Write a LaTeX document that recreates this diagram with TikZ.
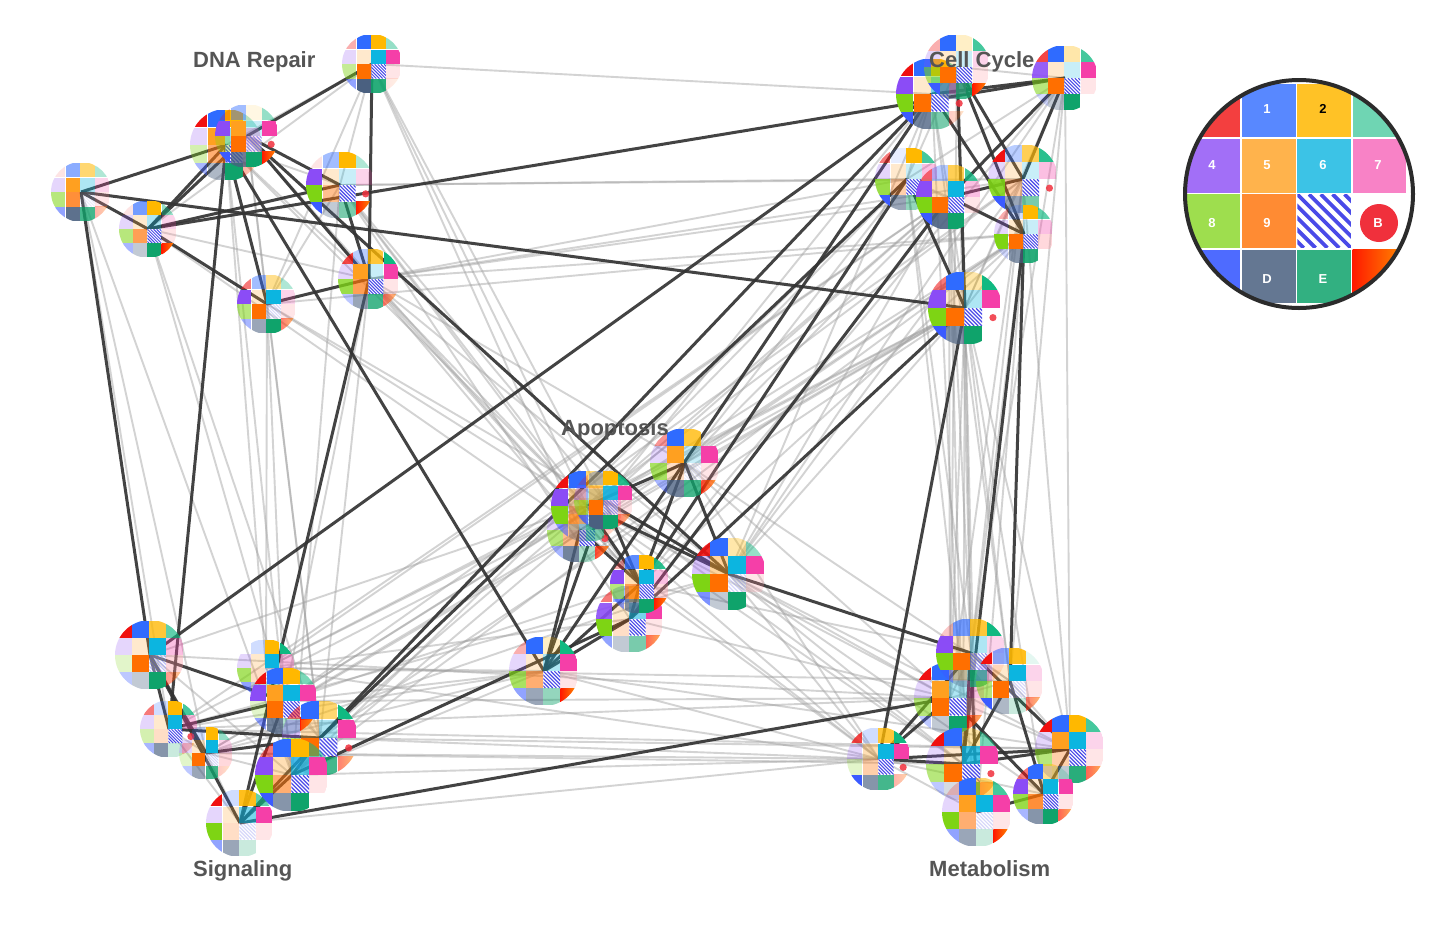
\documentclass[tikz,border=0pt]{standalone}
\usepackage{fontspec}
\setmainfont{Liberation Sans}
\pgfdeclarelayer{edges}
\pgfsetlayers{edges,main}
\definecolor{g0}{HTML}{F01010}
\definecolor{g1}{HTML}{2F6BFF}
\definecolor{g2}{HTML}{FFB800}
\definecolor{g3}{HTML}{10B981}
\definecolor{g4}{HTML}{8B4CF6}
\definecolor{g5}{HTML}{FFA020}
\definecolor{g6}{HTML}{0CB5E0}
\definecolor{g7}{HTML}{F53FA8}
\definecolor{g8}{HTML}{7ED414}
\definecolor{g9}{HTML}{FF6F00}
\definecolor{g10}{HTML}{4A4AE8}
\definecolor{g11}{HTML}{FF8C98}
\definecolor{g12}{HTML}{3B5BFF}
\definecolor{g13}{HTML}{4A6080}
\definecolor{g14}{HTML}{0FA36B}
\definecolor{gradA}{HTML}{FF1A00}
\definecolor{gradB}{HTML}{FF9000}
\definecolor{dotred}{HTML}{F0303C}
\definecolor{labelgray}{HTML}{555555}
\definecolor{ringdark}{HTML}{2B2B2B}
\tikzset{
  lightedge/.style={draw=black!38,opacity=.45,line width=1.9pt},
  darkedge/.style={draw=black!80,opacity=.92,line width=3pt},
  hub/.style={circle,inner sep=0pt,draw=none,fill=none},
  grouplabel/.style={anchor=base west,inner sep=0pt,text=labelgray,font=\fontsize{22}{24}\selectfont\bfseries},
  keylabel/.style={inner sep=0pt,text=white,font=\fontsize{13}{15}\selectfont\bfseries},
}
% one cell: index, opacity, x, y, size
\newcommand\hmcell[5]{%
  \ifnum#1=10\relax
    \begin{scope}
      \clip (#3,#4) rectangle ++(#5,#5);
      \fill[white,opacity=#2] (#3,#4) rectangle ++(#5,#5);
      \pgfmathsetlengthmacro\hw{0.07*#5*1pt}%
      \foreach \k in {-5,...,5}{%
        \draw[g10,opacity=#2,line width=\hw] ({#3+\k*0.22*#5},#4) -- ++(#5,#5);
      }
    \end{scope}
  \else\ifnum#1=15\relax
    \shade[left color=gradA,right color=gradB,opacity=#2] (#3,#4) rectangle ++(#5,#5);
  \else
    \fill[g#1,opacity=#2] (#3,#4) rectangle ++(#5,#5);
  \fi\fi
}
% name, x, y, r, sixteen strengths, dot flag
\newcommand\hmglyph[6]{%
  \begin{scope}
    \clip (#2,#3) circle (#4);
    \foreach \o [count=\i from 0] in {#5}{%
      \ifnum\o>0\relax
        \pgfmathsetmacro\cc{int(mod(\i,4))}%
        \pgfmathsetmacro\rr{int(\i/4)}%
        \pgfmathsetmacro\xa{#2+(-0.996+0.489*\cc)*#4}%
        \pgfmathsetmacro\ya{#3+(-0.97+0.489*\rr)*#4}%
        \pgfmathsetmacro\ss{0.478*#4}%
        \pgfmathsetmacro\op{\o/9}%
        \hmcell{\i}{\op}{\xa}{\ya}{\ss}%
      \fi
    }
    \ifnum#6=1\relax
      \fill[dotred,opacity=.85] ({#2+0.755*#4},{#3+0.26*#4}) circle (3.6);
    \fi
  \end{scope}
  \node[hub,minimum size={#4*2pt}] (#1) at (#2,#3) {};
}
\begin{document}
\begin{tikzpicture}[x=1pt,y=-1pt]
\useasboundingbox (0,0) rectangle (1456,935);
% DNA Repair
\hmglyph{a1}{372}{64}{30}{3,9,9,4,2,2,9,9,4,9,9,2,5,9,8,1}{0}
\hmglyph{a2}{81}{192}{30}{1,5,5,3,2,9,3,2,5,7,1,2,5,8,7,3}{0}
\hmglyph{a3}{148}{229}{29}{1,6,9,4,2,2,3,2,5,6,9,2,4,3,9,9}{0}
\hmglyph{a4}{226}{145}{36}{9,9,9,3,2,9,4,3,3,5,9,3,4,4,9,3}{0}
\hmglyph{a8}{247}{136}{32}{2,4,1,4,9,9,2,9,3,9,5,0,9,7,9,9}{1}
\hmglyph{a5}{340}{185}{34}{1,4,9,3,9,2,2,2,9,4,9,0,9,3,5,9}{1}
\hmglyph{a6}{369}{279}{31}{7,3,7,9,2,9,2,9,7,6,9,2,3,5,7,5}{0}
\hmglyph{a7}{267}{304}{30}{5,4,4,3,9,2,9,2,5,9,2,2,4,5,9,5}{0}
% Cell Cycle
\hmglyph{c2}{932}{94}{36}{9,9,9,5,9,2,5,5,9,9,9,0,9,7,5,2}{1}
\hmglyph{c1}{957}{67}{33}{3,9,2,7,2,2,2,2,5,9,9,2,9,5,7,9}{0}
\hmglyph{c3}{1065}{78}{33}{7,9,3,7,8,2,2,9,5,9,9,2,2,3,9,0}{0}
\hmglyph{c4}{907}{179}{32}{5,1,9,7,2,2,2,3,7,3,9,0,9,5,4,0}{0}
\hmglyph{c6}{1023}{179}{35}{9,3,6,8,2,2,2,3,8,3,9,0,9,5,5,0}{1}
\hmglyph{c7}{1024}{234}{30}{3,2,9,6,2,2,2,3,9,9,9,3,2,6,8,0}{0}
\hmglyph{c5}{949}{197}{33}{5,3,6,7,9,3,9,3,9,9,9,2,9,8,9,0}{0}
\hmglyph{c8}{965}{308}{37}{5,9,3,9,9,2,3,9,9,9,9,0,9,6,9,0}{1}
% Apoptosis
\hmglyph{p4}{580}{530}{33}{2,2,3,3,2,4,3,3,5,4,9,0,4,7,3,7}{1}
\hmglyph{p2}{587}{506}{36}{9,9,5,2,9,4,3,3,9,5,3,3,5,3,5,2}{0}
\hmglyph{p3}{604}{500}{30}{2,3,9,8,3,5,8,9,5,9,5,2,7,9,9,5}{0}
\hmglyph{p1}{685}{463}{35}{4,9,7,0,2,9,2,9,6,2,1,2,4,7,7,7}{0}
\hmglyph{p7}{729}{574}{37}{8,9,3,4,3,4,9,9,9,9,2,2,6,3,9,0}{0}
\hmglyph{p6}{630}{619}{34}{5,4,5,5,8,2,5,9,9,2,9,2,5,3,5,6}{0}
\hmglyph{p5}{640}{584}{30}{3,7,9,8,9,3,9,3,5,6,9,3,5,6,9,9}{0}
\hmglyph{p8}{544}{671}{35}{3,9,2,9,2,2,3,9,6,5,9,2,5,5,4,9}{0}
% Signaling
\hmglyph{s1}{150}{655}{35}{9,9,7,6,2,2,9,3,2,9,3,3,3,3,9,4}{0}
\hmglyph{s2}{266}{668}{29}{0,2,9,9,2,2,9,3,6,2,2,2,5,3,3,2}{0}
\hmglyph{s3}{284}{701}{34}{9,9,9,5,9,9,9,9,2,9,9,0,5,7,3,9}{1}
\hmglyph{s4}{169}{729}{29}{5,2,9,7,2,2,9,3,3,2,9,0,4,6,2,3}{1}
\hmglyph{s5}{206}{753}{27}{0,2,9,4,2,2,9,2,2,9,2,3,3,5,7,2}{0}
\hmglyph{s6}{320}{738}{38}{5,9,5,9,3,3,3,9,5,9,9,0,3,3,7,5}{1}
\hmglyph{s7}{292}{775}{37}{5,9,9,5,9,3,6,9,9,5,9,2,9,6,9,0}{0}
\hmglyph{s8}{240}{823}{34}{9,2,8,6,2,2,5,9,9,2,2,2,5,5,2,0}{0}
% Metabolism
\hmglyph{m3}{950}{698}{36}{9,9,3,3,2,9,3,3,5,9,9,3,3,3,9,6}{0}
\hmglyph{m1}{971}{653}{35}{2,6,7,9,9,2,3,2,9,9,5,2,5,3,7,2}{0}
\hmglyph{m2}{1010}{681}{34}{9,5,8,1,2,2,9,2,5,9,2,2,9,4,2,5}{0}
\hmglyph{m4}{879}{759}{32}{7,2,7,9,2,3,9,9,2,3,9,0,9,6,7,3}{1}
\hmglyph{m6}{1070}{749}{35}{9,9,9,7,2,9,9,2,5,3,9,2,3,3,8,6}{0}
\hmglyph{m7}{1044}{794}{31}{5,9,4,2,9,2,9,9,7,7,9,2,4,6,9,6}{0}
\hmglyph{m5}{963}{764}{37}{9,9,3,5,2,2,7,9,5,9,9,0,3,2,9,5}{1}
\hmglyph{m8}{977}{812}{35}{2,9,5,7,2,9,9,9,9,5,2,2,5,5,2,9}{0}
% Connectors, behind the glyphs
\begin{pgfonlayer}{edges}
\fill[white] (0,0) rectangle (1456,935);
\foreach \u/\v in {a1/a3,a1/a5,a1/a7,a1/a4,a3/a6,a4/a5,a5/a7,a8/a7,a4/a6,
 a2/s4,a2/s5,a2/s7,a3/s3,a3/s6,a4/s2,a4/s7,a8/s6,a5/s7,a7/s2,a7/s6,a7/s3,a6/s6,a6/s3,
 a1/p2,a1/p4,a1/p3,a4/p2,a8/p4,a5/p3,a5/p5,a5/p2,a5/p6,a6/p1,a6/p2,a6/p5,a7/p2,a7/p7,a3/p4,a8/p5,a6/p7,
 a1/c2,a5/c4,a5/c6,a6/c4,a6/c5,a6/c6,a7/c7,a6/c7,
 c1/c2,c1/c3,c2/c4,c2/c5,c3/c4,c3/c8,c4/c5,c4/c7,c6/c7,c1/c4,c5/c8,c6/c8,c7/c8,
 c4/p1,c4/p2,c5/p3,c5/p1,c5/p7,c8/p1,c8/p2,c8/p4,c8/p7,c7/p1,c7/p4,c7/p5,c6/p7,c6/p2,c3/p5,c3/p7,c2/p7,c2/p3,
 c5/s2,c5/s4,c5/s6,c7/s3,c8/s2,c8/s6,c8/s5,c4/s7,c6/s3,c7/s7,
 c1/m1,c1/m3,c2/m2,c2/m5,c3/m2,c3/m6,c3/m1,c4/m8,c4/m1,c5/m1,c5/m3,c5/m5,c6/m3,c6/m1,c6/m6,c7/m1,c7/m8,c8/m1,c8/m2,c8/m3,c8/m5,c8/m6,c8/m7,c8/m8,
 p2/s1,p2/s2,p3/s3,p4/s5,p5/s3,p6/s2,p7/s4,p7/s5,p8/s2,p8/s3,p8/s4,p8/s7,p8/s5,p4/s7,p1/s4,
 p1/m3,p1/m4,p2/m4,p2/m3,p3/m5,p5/m4,p5/m1,p6/m3,p7/m4,p7/m5,p7/m7,p7/m3,p7/m6,p8/m4,p8/m6,p2/m5,p1/m2,p4/m4,
 s1/m3,s2/m2,s3/m3,s4/m3,s4/m6,s5/m4,s5/m5,s6/m4,s6/m6,s7/m4,s8/m4,s2/m4,
 s1/s7,s2/s3,s2/s6,s2/s7,s3/s6,s3/s7,s4/s5,s4/s8,s5/s8,s5/s7,
 m1/m3,m1/m2,m2/m3,m2/m6,m3/m6,m4/m7,m4/m8}
  \draw[lightedge] (\u.center) -- (\v.center);
\foreach \u/\v in {a2/a4,a2/a3,a3/a4,a3/a8,a3/a5,a3/a7,a8/a5,a8/a6,a4/a7,a1/a8,a1/a6,a6/a7,a5/a6,
 a2/s1,a4/s4,a4/p8,a6/s8,a2/c8,a3/c3,a8/p7,
 c2/c3,c1/c7,c1/c6,c3/c6,c3/c5,c5/c6,c5/c7,c2/c7,c1/c8,c4/c8,
 s1/c2,s6/c2,s6/c4,p8/c2,p5/c4,p6/c5,p6/c8,c8/m4,c7/m5,c7/m2,
 p8/p4,p8/p3,p8/p5,p8/p6,p1/p2,p2/p7,p3/p7,p1/p7,p1/p5,p5/p2,p5/p3,p4/p5,p5/p6,
 s7/p6,s8/m3,p7/m1,
 s1/s3,s1/s4,s1/s5,s1/s8,s4/s3,s4/s6,s5/s6,s3/s8,s6/s8,s7/s8,s7/s6,
 m1/m6,m2/m7,m3/m7,m3/m4,m1/m4,m4/m6,m5/m6,m2/m5,m1/m8,m3/m8,m7/m8,m6/m7,m4/m5,m1/m5}
  \draw[darkedge] (\u.center) -- (\v.center);
\end{pgfonlayer}
% Group labels
\node[grouplabel] (ldna) at (193,67) {DNA Repair};
\node[grouplabel] (lcell) at (929,67) {Cell Cycle};
\node[grouplabel] (lapo) at (561,435) {Apoptosis};
\node[grouplabel] (lsig) at (193,876) {Signaling};
\node[grouplabel] (lmet) at (929,876) {Metabolism};
% Key glyph
\fill[white] (1299,194) circle (113);
\begin{scope}
  \clip (1299,194) circle (113);
  \foreach \i/\kop in {0/.8,1/.8,2/.85,3/.6,4/.8,5/.8,6/.8,7/.65,8/.75,9/.8,10/1,12/.9,13/.85,14/.85,15/1}{%
    \pgfmathsetmacro\cc{int(mod(\i,4))}%
    \pgfmathsetmacro\rr{int(\i/4)}%
    \pgfmathsetmacro\xa{1186.7+55.3*\cc}%
    \pgfmathsetmacro\ya{83.7+55.3*\rr}%
    \hmcell{\i}{\kop}{\xa}{\ya}{53.6}%
  }
\end{scope}
\fill[dotred] (1379,223) circle (19);
\node[keylabel] (k1) at (1267,109) {1};
\node[keylabel,text=black] (k2) at (1323,109) {2};
\node[keylabel] (k4) at (1212,165) {4};
\node[keylabel] (k5) at (1267,165) {5};
\node[keylabel] (k6) at (1323,165) {6};
\node[keylabel] (k7) at (1378,165) {7};
\node[keylabel] (k8) at (1212,223) {8};
\node[keylabel] (k9) at (1267,223) {9};
\node[keylabel] (kb) at (1378,223) {B};
\node[keylabel] (kd) at (1267,279) {D};
\node[keylabel] (ke) at (1323,279) {E};
\node[circle,draw=ringdark,line width=4pt,inner sep=0pt,minimum size=228pt,fill=none] (key) at (1299,194) {};
\end{tikzpicture}
\end{document}
